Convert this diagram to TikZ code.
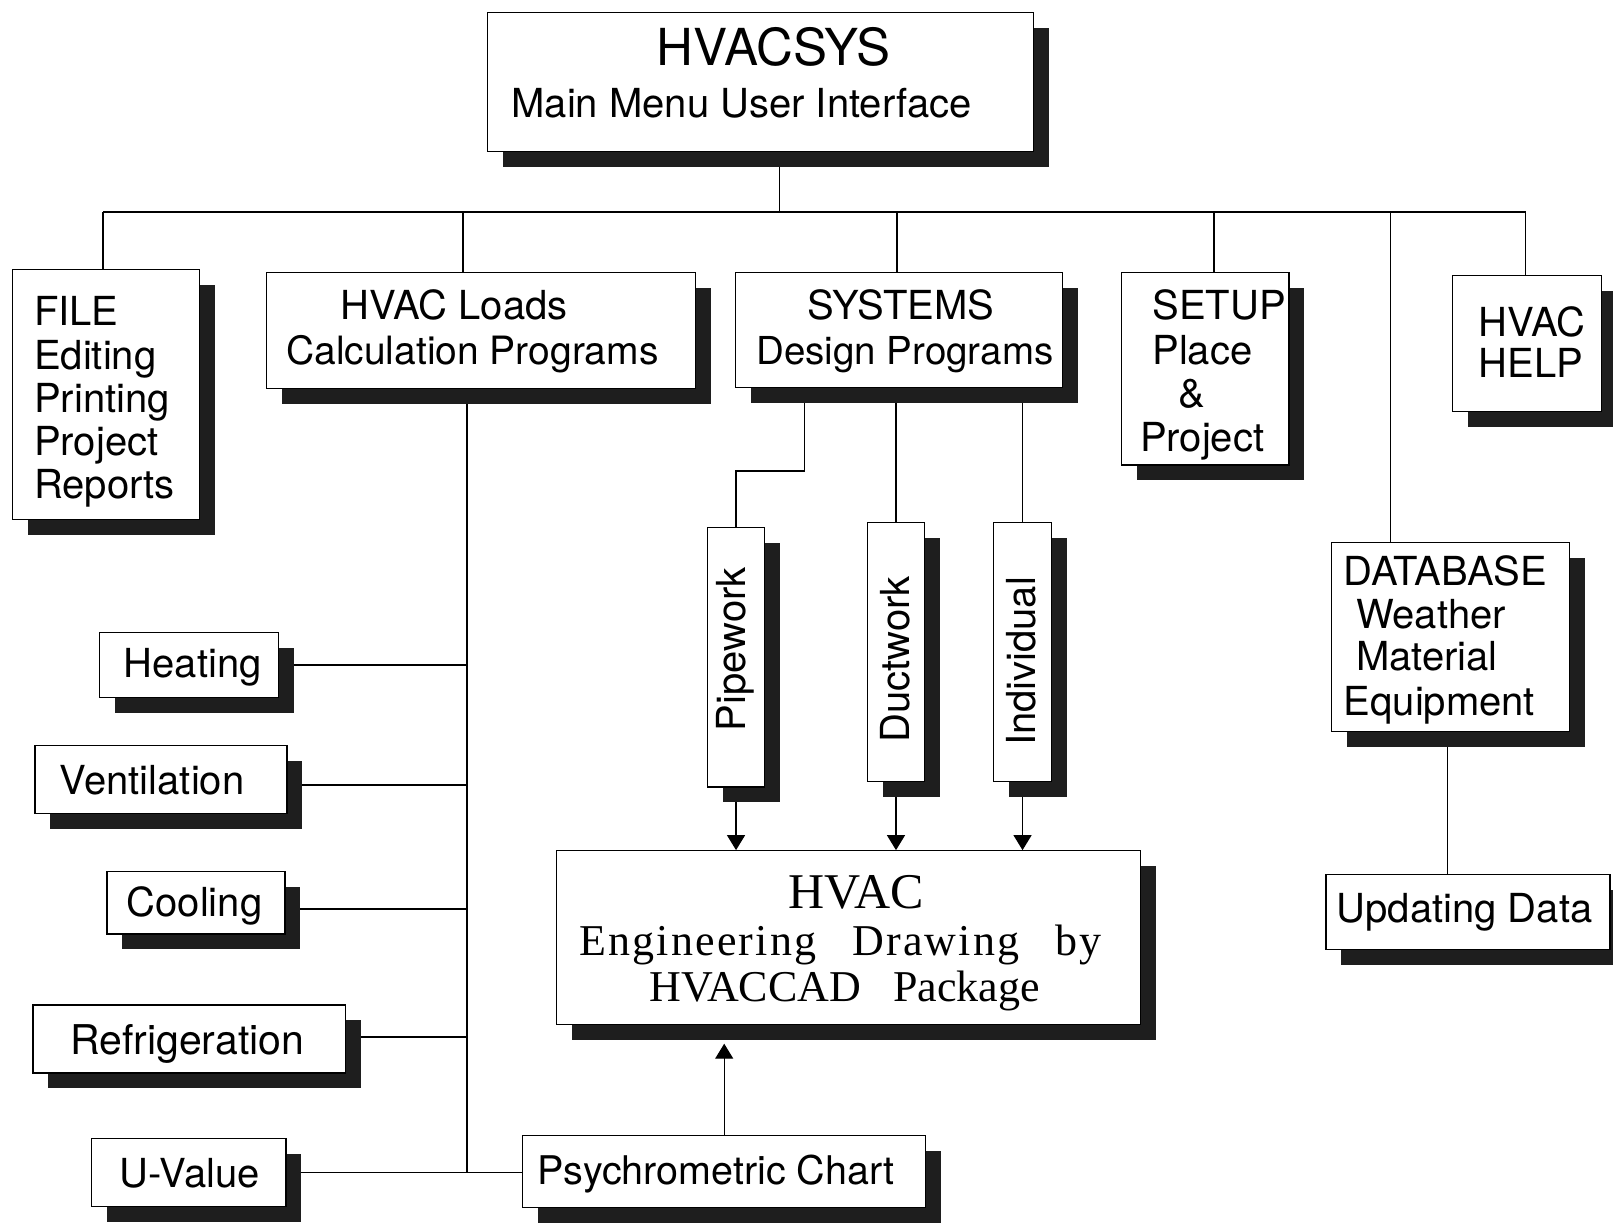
\documentclass[tikz,border=0pt]{standalone}
\usepackage{fontspec}
\setmainfont{TeX Gyre Heros}
\newfontfamily\serifrm{Liberation Serif}
\newfontfamily\serifsp[LetterSpace=5]{Liberation Serif}
\usetikzlibrary{fit,shadows,backgrounds,calc,arrows.meta}
\definecolor{shadowc}{HTML}{1E1E1E}
\begin{document}
\begin{tikzpicture}[x=1.0287pt,y=-1.0287pt,
  box/.style={draw, line width=1.2pt, fill=white, inner sep=0pt,
    drop shadow={shadow xshift=15.4pt, shadow yshift=-15.4pt, fill=shadowc, opacity=1}},
  txt/.style={inner sep=0pt, font=\fontsize{40}{48}\selectfont},
  big/.style={font=\fontsize{51}{60}\selectfont},
  conn/.style={line width=1.3pt},
  arr/.style={conn, -{Triangle[width=18pt,length=15pt]}}]

% ---------- boxes ----------
\node[box, fit={(474,12) (1005,147)}] (main) {};
\node[box, fit={(12,262) (194,505)}] (file) {};
\node[box, fit={(259,265) (676,378)}] (loads) {};
\node[box, fit={(715,265) (1033,377)}] (sys) {};
\node[box, fit={(1090,265) (1253,452)}] (setup) {};
\node[box, fit={(1412,268) (1557,400)}] (help) {};
\node[box, fit={(1294,527) (1526,711)}] (db) {};
\node[box, fit={(1289,850) (1565,923)}] (upd) {};
\node[box, fit={(688,513) (743,765)}] (pipe) {};
\node[box, fit={(843,508) (899,760)}] (duct) {};
\node[box, fit={(966,508) (1022,760)}] (indiv) {};
\node[box, fit={(541,827) (1109,996)}] (hvac) {};
\node[box, fit={(508,1104) (900,1174)}] (psy) {};
\node[box, fit={(97,615) (271,678)}] (heat) {};
\node[box, fit={(34,725) (279,791)}] (vent) {};
\node[box, fit={(104,847) (277,908)}] (cool) {};
\node[box, fit={(32,977) (336,1043)}] (refr) {};
\node[box, fit={(89,1107) (278,1173)}] (uval) {};

% ---------- texts ----------
\node[txt, big, anchor=base] (tm1) at (752,64) {HVACSYS};
\node[txt, anchor=base west] (tm2) at (497,114) {Main Menu User Interface};

\node[txt, anchor=base west] (tf1) at (33,316) {FILE};
\node[txt, anchor=base west] (tf2) at (33,359) {Editing};
\node[txt, anchor=base west] (tf3) at (33,401) {Printing};
\node[txt, anchor=base west] (tf4) at (33,443) {Project};
\node[txt, anchor=base west] (tf5) at (33,485) {Reports};

\node[txt, anchor=base west] (tl1) at (331,311) {HVAC Loads};
\node[txt, anchor=base west, font=\fontsize{39}{48}\selectfont] (tl2) at (278,354) {Calculation Programs};

\node[txt, anchor=base west] (ts1) at (785,311) {SYSTEMS};
\node[txt, anchor=base west, font=\fontsize{38.5}{48}\selectfont] (ts2) at (735,354) {Design Programs};

\node[txt, anchor=base west] (tu1) at (1120,311) {SETUP};
\node[txt, anchor=base west] (tu2) at (1120,354) {Place};
\node[txt, anchor=base west] (tu3) at (1145,396) {\&};
\node[txt, anchor=base west] (tu4) at (1108,439) {Project};

\node[txt, anchor=base west] (th1) at (1437,327) {HVAC};
\node[txt, anchor=base west] (th2) at (1437,367) {HELP};

\node[txt, anchor=base west] (td1) at (1306,569) {DATABASE};
\node[txt, anchor=base west] (td2) at (1318,611) {Weather};
\node[txt, anchor=base west] (td3) at (1318,652) {Material};
\node[txt, anchor=base west] (td4) at (1306,696) {Equipment};

\node[txt, anchor=base west] (tup) at (1299,897) {Updating Data};

\node[txt, anchor=base west] (the) at (120,659) {Heating};
\node[txt, anchor=base west] (tve) at (58,772) {Ventilation};
\node[txt, anchor=base west] (tco) at (123,891) {Cooling};
\node[txt, anchor=base west, font=\fontsize{41}{48}\selectfont] (tre) at (68,1025) {Refrigeration};
\node[txt, anchor=base west] (tuv) at (116,1154) {U-Value};
\node[txt, anchor=base west, font=\fontsize{39.5}{48}\selectfont] (tps) at (522,1151) {Psychrometric Chart};

\node[txt, rotate=90] (tpi) at (715,631) {Pipework};
\node[txt, rotate=90] (tdu) at (870,641) {Ductwork};
\node[txt, rotate=90] (tin) at (993,643) {Individual};

\node[inner sep=0pt, font=\fontsize{50}{58}\serifrm, anchor=base] (tv1) at (832,883) {HVAC};
\node[inner sep=0pt, font=\fontsize{44}{52}\serifsp, anchor=base west] (tv2) at (563,929)
  {Engineering\hspace{36pt}Drawing\hspace{36pt}by};
\node[inner sep=0pt, font=\fontsize{44}{52}\serifrm, anchor=base west] (tv3) at (631,974)
  {HVACCAD\hspace{32pt}Package};

% ---------- connectors (behind boxes) ----------
\begin{scope}[on background layer]
\fill[white] (0,0) rectangle (1568,1188);
\coordinate (jm) at (758,206);
\coordinate (bL) at (100,206);
\coordinate (bR) at (1483,206);
\coordinate (j2) at (450,206);
\coordinate (j3) at (872,206);
\coordinate (j4) at (1180,206);
\coordinate (j5) at (1352,206);
\coordinate (lv) at (454,0);
\coordinate (pw) at (782,458);
\coordinate (dv) at (1407,0);

\draw[conn] (main.south -| jm) -- (jm);
\draw[conn] (bL) -- (bR);
\draw[conn] (bL) -- (bL |- file.north);
\draw[conn] (j2) -- (j2 |- loads.north);
\draw[conn] (j3) -- (j3 |- sys.north);
\draw[conn] (j4) -- (j4 |- setup.north);
\draw[conn] (j5) -- (j5 |- db.north);
\draw[conn] (bR) -- (bR |- help.north);

\draw[conn] (lv |- loads.south) -- (lv |- uval.east);
\draw[conn] (heat.east) -- (heat.east -| lv);
\draw[conn] ($(vent.east)+(0,5)$) -- ($(vent.east -| lv)+(0,5)$);
\draw[conn] ($(cool.east)+(0,6)$) -- ($(cool.east -| lv)+(0,6)$);
\draw[conn] ($(refr.east)+(0,-2)$) -- ($(refr.east -| lv)+(0,-2)$);
\draw[conn] (uval.east) -- (uval.east -| psy.west);

\draw[conn] (pw |- sys.south) -- (pw) -- (pw -| pipe.north) -- (pipe.north);
\draw[conn] (duct.north |- sys.south) -- (duct.north);
\draw[conn] (indiv.north |- sys.south) -- (indiv.north);

\draw[arr] (pipe.south) -- (pipe.south |- hvac.north);
\draw[arr] (duct.south) -- (duct.south |- hvac.north);
\draw[arr] (indiv.south) -- (indiv.south |- hvac.north);
\draw[arr] (psy.north) -- ($(psy.north |- hvac.south)+(0,18)$);

\draw[conn] (dv |- db.south) -- (dv |- upd.north);
\end{scope}

\path[use as bounding box] (0,0) rectangle (1568,1188);
\end{tikzpicture}
\end{document}
